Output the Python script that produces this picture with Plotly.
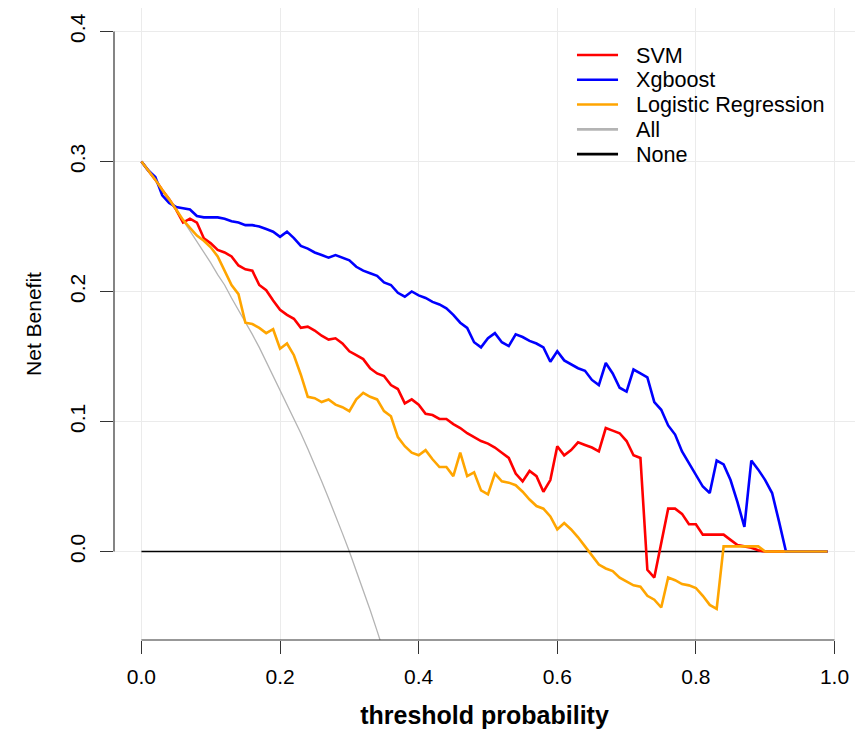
import plotly.graph_objects as go

# ---------------- data ----------------
thresholds = [round(i * 0.01, 2) for i in range(100)]

svm = [0.300, 0.293, 0.286, 0.278, 0.271, 0.263, 0.253, 0.256, 0.253, 0.241,
       0.237, 0.232, 0.230, 0.227, 0.220, 0.217, 0.216, 0.205, 0.201, 0.193,
       0.186, 0.182, 0.179, 0.172, 0.173, 0.170, 0.166, 0.163, 0.164, 0.160,
       0.154, 0.151, 0.148, 0.141, 0.137, 0.135, 0.128, 0.125, 0.114, 0.117,
       0.113, 0.106, 0.105, 0.102, 0.102, 0.098, 0.095, 0.091, 0.088, 0.085,
       0.083, 0.080, 0.076, 0.072, 0.060, 0.054, 0.062, 0.058, 0.046, 0.055,
       0.081, 0.074, 0.078, 0.084, 0.082, 0.080, 0.077, 0.095, 0.093, 0.091,
       0.085, 0.074, 0.072, -0.014, -0.020, 0.006, 0.033, 0.033, 0.029, 0.021,
       0.021, 0.013, 0.013, 0.013, 0.013, 0.009, 0.005, 0.004, 0.003, 0.001,
       0.000, 0.000, 0.000, 0.000, 0.000, 0.000, 0.000, 0.000, 0.000, 0.000]

xgboost = [0.300, 0.293, 0.288, 0.274, 0.268, 0.265, 0.264, 0.263, 0.258, 0.257,
           0.257, 0.257, 0.256, 0.254, 0.253, 0.251, 0.251, 0.250, 0.248, 0.246,
           0.242, 0.246, 0.241, 0.235, 0.233, 0.230, 0.228, 0.226, 0.228, 0.226,
           0.224, 0.219, 0.216, 0.214, 0.212, 0.207, 0.205, 0.199, 0.196, 0.200,
           0.197, 0.195, 0.192, 0.190, 0.187, 0.182, 0.176, 0.172, 0.161, 0.157,
           0.164, 0.168, 0.161, 0.158, 0.167, 0.165, 0.162, 0.160, 0.157, 0.146,
           0.154, 0.147, 0.144, 0.141, 0.139, 0.132, 0.128, 0.145, 0.137, 0.126,
           0.123, 0.140, 0.137, 0.134, 0.115, 0.109, 0.097, 0.090, 0.077, 0.068,
           0.059, 0.050, 0.045, 0.070, 0.067, 0.055, 0.038, 0.019, 0.070, 0.063,
           0.055, 0.045, 0.023, 0.000, 0.000, 0.000, 0.000, 0.000, 0.000, 0.000]

logistic = [0.300, 0.293, 0.286, 0.278, 0.271, 0.263, 0.255, 0.249, 0.243, 0.239,
            0.234, 0.227, 0.216, 0.205, 0.198, 0.176, 0.175, 0.172, 0.168, 0.171,
            0.156, 0.160, 0.151, 0.136, 0.119, 0.118, 0.115, 0.117, 0.113, 0.111,
            0.108, 0.117, 0.122, 0.119, 0.117, 0.108, 0.104, 0.088, 0.081, 0.076,
            0.074, 0.078, 0.071, 0.065, 0.065, 0.058, 0.076, 0.058, 0.061, 0.047,
            0.044, 0.060, 0.054, 0.053, 0.051, 0.046, 0.040, 0.035, 0.033, 0.027,
            0.017, 0.022, 0.017, 0.011, 0.004, -0.003, -0.010, -0.013, -0.015, -0.020,
            -0.023, -0.026, -0.027, -0.034, -0.037, -0.043, -0.020, -0.022, -0.025, -0.026,
            -0.028, -0.034, -0.041, -0.044, 0.004, 0.004, 0.004, 0.004, 0.004, 0.004,
            0.000, 0.000, 0.000, 0.000, 0.000, 0.000, 0.000, 0.000, 0.000, 0.000]

treat_all = [0.300, 0.293, 0.286, 0.278, 0.271, 0.263, 0.255, 0.247, 0.239, 0.231,
             0.222, 0.213, 0.205, 0.195, 0.186, 0.176, 0.167, 0.157, 0.146, 0.136,
             0.125, 0.114, 0.103, 0.091, 0.079, 0.067, 0.054, 0.041, 0.028, 0.014,
             0.000, -0.015, -0.029, -0.045, -0.061, -0.077, -0.094]

treat_none = [0.0] * len(thresholds)

series_names = ["SVM", "Xgboost", "Logistic Regression", "All", "None"]
series_colors = ["#FF0000", "#0000FF", "#FFA500", "#B4B4B4", "#000000"]

x_ticks = [0.0, 0.2, 0.4, 0.6, 0.8, 1.0]
y_ticks = [0.0, 0.1, 0.2, 0.3, 0.4]

# ---------------- figure ----------------
FONT = "Liberation Sans, Arial, Helvetica, sans-serif"
fig = go.Figure()

# drawing order: reference lines first, then models
fig.add_trace(go.Scatter(x=thresholds[:len(treat_all)], y=treat_all, mode="lines",
                         line=dict(color=series_colors[3], width=1.3),
                         name=series_names[3], showlegend=False, hoverinfo="skip"))
fig.add_trace(go.Scatter(x=thresholds, y=treat_none, mode="lines",
                         line=dict(color=series_colors[4], width=1.4),
                         name=series_names[4], showlegend=False, hoverinfo="skip"))
for vals, nm, col in zip([svm, xgboost, logistic], series_names[:3], series_colors[:3]):
    fig.add_trace(go.Scatter(x=thresholds, y=vals, mode="lines",
                             line=dict(color=col, width=2.6),
                             name=nm, showlegend=False))

axis_col = "#333333"
shapes = [
    # R-style axis lines spanning only the tick range
    dict(type="line", xref="paper", yref="y", x0=0, x1=0, y0=y_ticks[0], y1=y_ticks[-1],
         line=dict(color=axis_col, width=1.2)),
    dict(type="line", xref="x", yref="paper", x0=x_ticks[0], x1=x_ticks[-1], y0=0, y1=0,
         line=dict(color=axis_col, width=1.2)),
]

# manual legend (top right, no box)
annotations = []
leg_x0, leg_x1, leg_tx = 0.6248, 0.6802, 0.7018
leg_y_top, leg_dy = 0.9256, 0.0392
for i, (nm, col) in enumerate(zip(series_names, series_colors)):
    yy = leg_y_top - i * leg_dy
    shapes.append(dict(type="line", xref="paper", yref="paper", x0=leg_x0, x1=leg_x1,
                       y0=yy, y1=yy, line=dict(color=col, width=2.6)))
    annotations.append(dict(xref="paper", yref="paper", x=leg_tx, y=yy, text=nm,
                            showarrow=False, xanchor="left", yanchor="middle",
                            font=dict(family=FONT, size=21.6, color="#000000")))

fig.update_layout(
    width=855, height=734,
    margin=dict(l=114, r=0, t=8, b=94, pad=0),
    plot_bgcolor="white", paper_bgcolor="white",
    showlegend=False,
    shapes=shapes, annotations=annotations,
    font=dict(family=FONT, color="#000000"),
    xaxis=dict(range=[-0.0396, 1.0296], tickvals=x_ticks, tickformat=".1f",
               ticks="outside", ticklen=13, tickwidth=1.2, tickcolor=axis_col,
               showgrid=True, gridcolor="#EBEBEB", gridwidth=1,
               zeroline=False, showline=False,
               tickfont=dict(family=FONT, size=21, color="#000000"),
               ticklabelstandoff=5,
               title=dict(text="threshold probability", standoff=19,
                          font=dict(family=FONT, size=25, color="#000000", weight="bold"))),
    yaxis=dict(range=[-0.068, 0.418], tickvals=y_ticks, tickformat=".1f",
               ticks="outside", ticklen=13, tickwidth=1.2, tickcolor=axis_col,
               tickangle=-90,
               showgrid=True, gridcolor="#EBEBEB", gridwidth=1,
               zeroline=False, showline=False,
               tickfont=dict(family=FONT, size=21, color="#000000"),
               ticklabelstandoff=7,
               title=dict(text="Net Benefit", standoff=18,
                          font=dict(family=FONT, size=21, color="#000000"))),
)

fig.write_html("out.html")
